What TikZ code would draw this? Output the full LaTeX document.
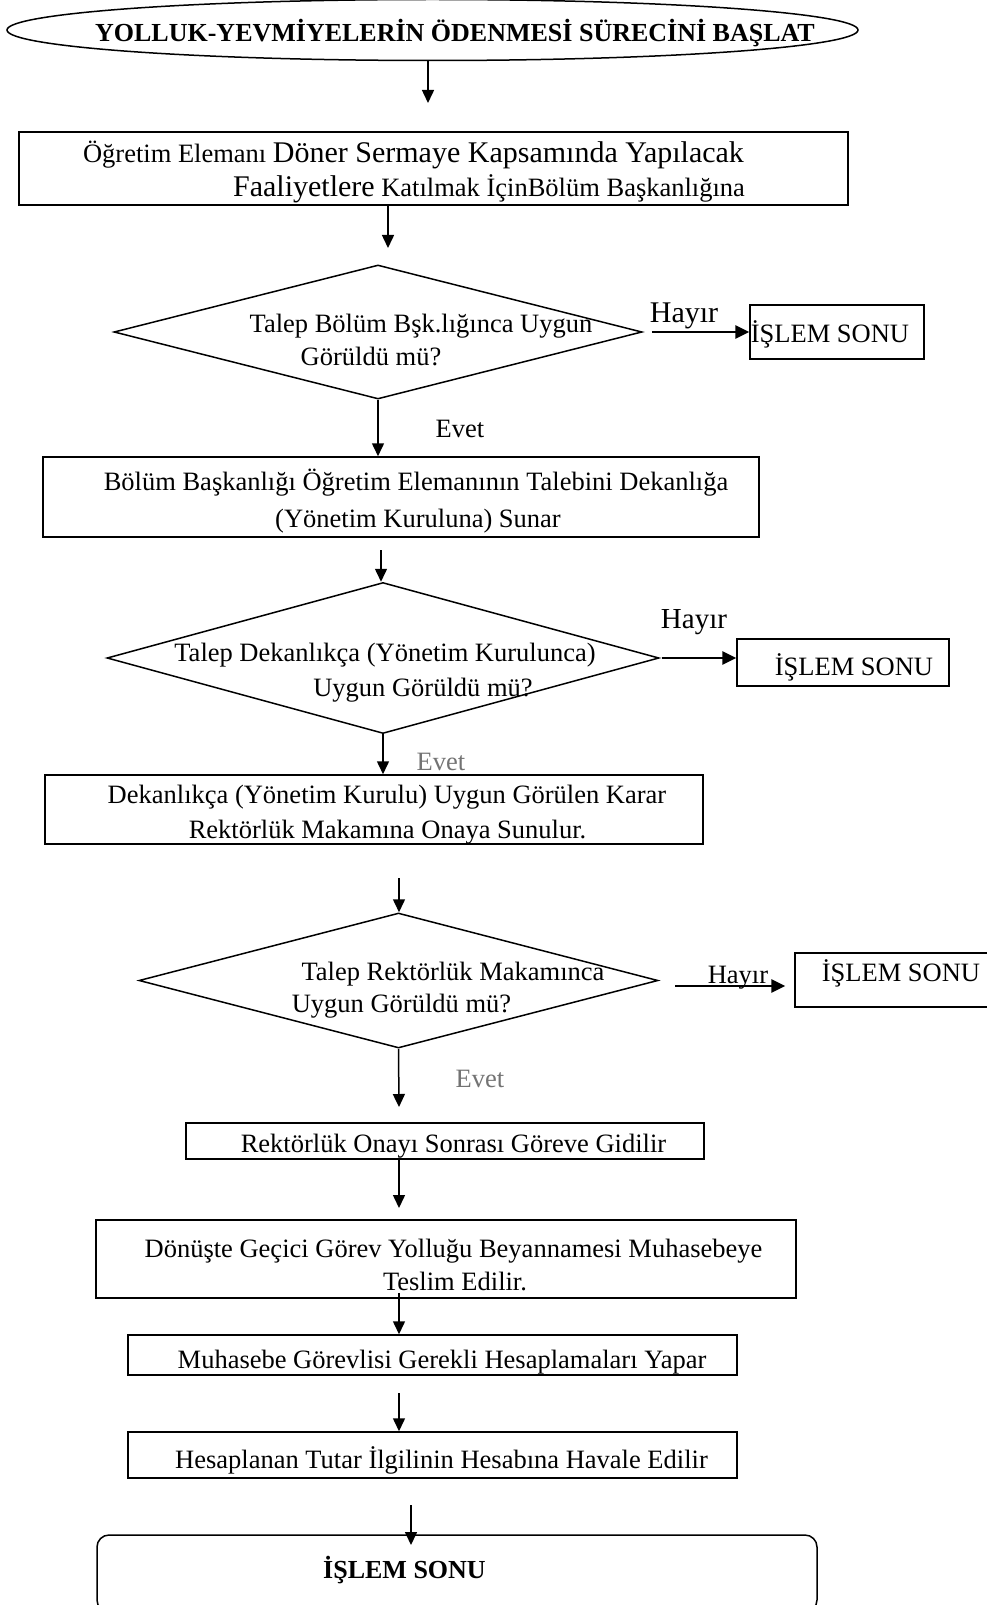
\documentclass[tikz,border=0pt]{standalone}
\usepackage{fontspec}
\setmainfont{Liberation Serif}
\usetikzlibrary{shapes.geometric,arrows.meta}
\begin{document}
\begin{tikzpicture}[x=1pt,y=-1pt,
  outline/.style={draw=black,line width=1.5pt},
  boxst/.style={outline,rectangle,inner sep=0pt},
  decision/.style={outline,diamond,inner sep=0pt},
  txt/.style={inner sep=0pt,anchor=base,font=\fontsize{26.5}{30}\selectfont},
  bigtxt/.style={txt,font=\fontsize{30}{34}\selectfont},
  faint/.style={txt,text=black!55},
  arr/.style={line width=1.5pt,-{Triangle[width=12pt,length=13pt]}},
  noarr/.style={line width=2.8pt,-{Triangle[width=13pt,length=14pt]}},
]
\useasboundingbox (0,0) rectangle (986,1605);

% start
\node[outline,ellipse,inner sep=0pt,minimum width=851,minimum height=61] (start) at (432.5,30) {};
\node[txt,font=\bfseries\fontsize{26}{30}\selectfont] (startt) at (455,42) {YOLLUK-YEVMİYELERİN ÖDENMESİ SÜRECİNİ BAŞLAT};
\coordinate (a1) at (428,103);
\draw[arr] (a1 |- start.south) -- (a1);

% application
\node[boxst,minimum width=829,minimum height=73] (b1) at (433.5,168.5) {};
\node[txt] (b1l1) at (413.5,163) {Öğretim Elemanı {\fontsize{30}{34}\selectfont Döner Sermaye Kapsamında Yapılacak}};
\node[txt] (b1l2) at (489,197) {{\fontsize{30}{34}\selectfont Faaliyetlere} Katılmak İçinBölüm Başkanlığına};
\coordinate (a2) at (388,248);
\draw[arr] (a2 |- b1.south) -- (a2);

% decision 1
\node[decision,minimum width=528,minimum height=134] (d1) at (378,332) {};
\node[txt] (d1l1) at (421,332) {Talep Bölüm Bşk.lığınca Uygun};
\node[txt] (d1l2) at (371,365) {Görüldü mü?};
\node[boxst,minimum width=174,minimum height=54] (e1) at (837,332) {};
\node[txt] (e1t) at (830,342) {İŞLEM SONU};
\draw[noarr] ([xshift=9pt]d1.east) -- (d1.east -| e1.west);
\node[bigtxt] (h1) at (684,322) {Hayır};

% department
\node[boxst,minimum width=716,minimum height=80] (b2) at (401,497) {};
\draw[arr] (d1.south) -- (d1.south |- b2.north);
\node[txt] (v1) at (460,437) {Evet};
\node[txt] (b2l1) at (416,490) {Bölüm Başkanlığı Öğretim Elemanının Talebini Dekanlığa};
\node[txt] (b2l2) at (418,527) {(Yönetim Kuruluna) Sunar};

% decision 2
\node[decision,minimum width=552,minimum height=151] (d2) at (383,658) {};
\coordinate (a3) at (381,550);
\draw[arr] (a3) -- (a3 |- d2.north);
\node[txt] (d2l1) at (385,661) {Talep Dekanlıkça (Yönetim Kurulunca)};
\node[txt] (d2l2) at (423,696) {Uygun Görüldü mü?};
\node[boxst,minimum width=212,minimum height=47] (e2) at (843,662.5) {};
\node[txt] (e2t) at (854,675) {İŞLEM SONU};
\draw[noarr] ([xshift=2pt]d2.east) -- (d2.east -| e2.west);
\node[bigtxt,font=\fontsize{29}{33}\selectfont] (h2) at (694,628) {Hayır};

% faculty board
\node[boxst,minimum width=658,minimum height=69] (b3) at (374,809.5) {};
\draw[arr] (d2.south) -- (d2.south |- b3.north);
\node[faint] (v2) at (441,770) {Evet};
\node[txt] (b3l1) at (387,803) {Dekanlıkça (Yönetim Kurulu) Uygun Görülen Karar};
\node[txt] (b3l2) at (387.5,838) {Rektörlük Makamına Onaya Sunulur.};

% decision 3
\node[decision,minimum width=519,minimum height=135] (d3) at (398.5,980.5) {};
\coordinate (a4) at (399,878);
\draw[arr] (a4) -- (a4 |- d3.north);
\node[txt] (d3l1) at (453,980) {Talep Rektörlük Makamınca};
\node[txt] (d3l2) at (401.5,1012) {Uygun Görüldü mü?};
\node[boxst,minimum width=200,minimum height=54] (e3) at (895,980) {};
\node[txt] (e3t) at (901,981) {İŞLEM SONU};
\coordinate (n3) at (675,986);
\draw[noarr,shorten >=9pt] (n3) -- (n3 -| e3.west);
\node[txt] (h3) at (738,983) {Hayır};

% approval
\coordinate (a5) at (399,1107);
\draw[arr] (d3.south) -- (a5);
\node[faint] (v3) at (480,1087) {Evet};
\node[boxst,minimum width=518,minimum height=36] (b4) at (445,1141) {};
\node[txt] (b4t) at (453.5,1152) {Rektörlük Onayı Sonrası Göreve Gidilir};

% declaration
\node[boxst,minimum width=700,minimum height=78] (b5) at (446,1259) {};
\coordinate (a6) at (399,1208);
\draw[arr] (a6 |- b4.south) -- (a6);
\node[txt] (b5l1) at (453.5,1257) {Dönüşte Geçici Görev Yolluğu Beyannamesi Muhasebeye};
\node[txt] (b5l2) at (455,1290) {Teslim Edilir.};

% calculation
\node[boxst,minimum width=609,minimum height=40] (b6) at (432.5,1355) {};
\node[txt] (b6t) at (442,1368) {Muhasebe Görevlisi Gerekli Hesaplamaları Yapar};
\draw[arr] ([yshift=6pt]a6 |- b5.south) -- (a6 |- b6.north);

% payment
\node[boxst,minimum width=609,minimum height=46] (b7) at (432.5,1455) {};
\node[txt] (b7t) at (441.5,1468) {Hesaplanan Tutar İlgilinin Hesabına Havale Edilir};
\coordinate (a7) at (399,1393);
\draw[arr] (a7) -- (a7 |- b7.north);

% end
\node[outline,rectangle,rounded corners=12pt,minimum width=720,minimum height=77] (fin) at (457,1573.5) {};
\node[txt,font=\bfseries\fontsize{26}{30}\selectfont] (fint) at (404.5,1578) {İŞLEM SONU};
\coordinate (a8a) at (411,1505);
\coordinate (a8b) at (411,1545);
\draw[arr] (a8a) -- (a8b);
\end{tikzpicture}
\end{document}
